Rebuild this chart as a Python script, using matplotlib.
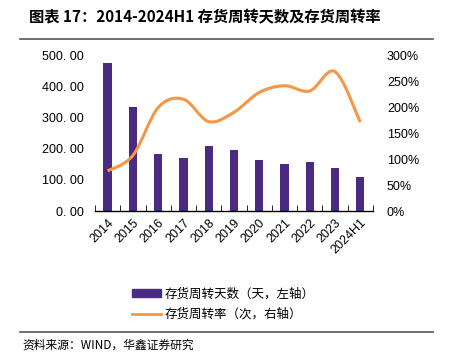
import matplotlib
matplotlib.use('Agg')
import matplotlib.pyplot as plt
import numpy as np
from matplotlib.path import Path
from matplotlib.patches import PathPatch, Patch
from matplotlib.lines import Line2D
from matplotlib.ticker import FuncFormatter, FixedLocator

plt.rcParams['font.family'] = ['Liberation Sans', 'Noto Sans CJK SC', 'DejaVu Sans']

years = ['2014', '2015', '2016', '2017', '2018', '2019', '2020', '2021', '2022', '2023', '2024H1']
days = [475, 332, 184, 170, 210, 197, 162, 152, 156, 137, 108]
rate = [77, 107, 199, 215, 172, 190, 228, 241, 231, 268, 171]

purple = '#4B2A82'
orange = '#F79646'
cjk = ['Noto Sans CJK SC', 'DejaVu Sans']

fig = plt.figure(figsize=(4.49, 3.61), dpi=100)
ax = fig.add_axes([0.2116, 0.4155, 0.619, 0.432])
ax2 = ax.twinx()

x = np.arange(len(years))
ax.bar(x, days, width=0.33, color=purple, zorder=2)
ax.set_xlim(-0.5, len(years) - 0.5)
ax.set_ylim(0, 500)
ax.set_yticks(np.arange(0, 501, 100))
ax.yaxis.set_major_formatter(FuncFormatter(lambda v, p: ('%.2f' % v).replace('.', '. ')))
ax.set_xticks(x)
ax.set_xticklabels(years, rotation=45, ha='right', rotation_mode='anchor', fontsize=9)
ax.xaxis.set_minor_locator(FixedLocator(np.arange(-0.5, len(years), 1)))
ax.tick_params(axis='x', which='major', length=0, pad=4)
ax.tick_params(axis='x', which='minor', direction='in', length=4, color='black')
ax.tick_params(axis='y', length=0, labelsize=9, pad=8)
for s in ['top', 'right', 'left']:
    ax.spines[s].set_visible(False)
ax.spines['bottom'].set_linewidth(1.0)

# smooth line like Excel (Catmull-Rom drawn as bezier segments)
ax2.set_ylim(0, 300)
pts = np.column_stack([x, rate]).astype(float)
verts = [tuple(pts[0])]
codes = [Path.MOVETO]
t = 1 / 6
for i in range(len(pts) - 1):
    p0 = pts[i - 1] if i > 0 else pts[i]
    p1 = pts[i]
    p2 = pts[i + 1]
    p3 = pts[i + 2] if i + 2 < len(pts) else pts[i + 1]
    c1 = p1 + (p2 - p0) * t
    c2 = p2 - (p3 - p1) * t
    verts += [tuple(c1), tuple(c2), tuple(p2)]
    codes += [Path.CURVE4] * 3
ax2.add_patch(PathPatch(Path(verts, codes), facecolor='none', edgecolor=orange, lw=2.2, zorder=3))
ax2.set_yticks(np.arange(0, 301, 50))
ax2.yaxis.set_major_formatter(FuncFormatter(lambda v, p: '%d%%' % v))
ax2.tick_params(axis='y', length=0, labelsize=9, pad=10)
for s in ['top', 'right', 'left', 'bottom']:
    ax2.spines[s].set_visible(False)

handles = [Patch(facecolor=purple, edgecolor=purple),
           Line2D([0], [0], color=orange, lw=2)]
fig.legend(handles, ['存货周转天数（天，左轴）', '存货周转率（次，右轴）'],
           loc='upper left', bbox_to_anchor=(0.27, 0.235), frameon=False,
           prop={'family': cjk, 'size': 9}, handlelength=2.3, handleheight=0.6,
           labelspacing=0.6, handletextpad=0.3)

fig.text(0.065, 0.952, '图表 17：2014-2024H1 存货周转天数及存货周转率', fontsize=11,
         fontweight='bold', family=cjk, va='center')
fig.add_artist(Line2D([0.045, 0.965], [0.892, 0.892], color='#555555', lw=1.2))
fig.add_artist(Line2D([0.045, 0.965], [0.081, 0.081], color='#555555', lw=1.2))
fig.text(0.05, 0.045, '资料来源：WIND，华鑫证券研究', fontsize=8.5, family=cjk, va='center')

fig.savefig('out.png', dpi=100)
